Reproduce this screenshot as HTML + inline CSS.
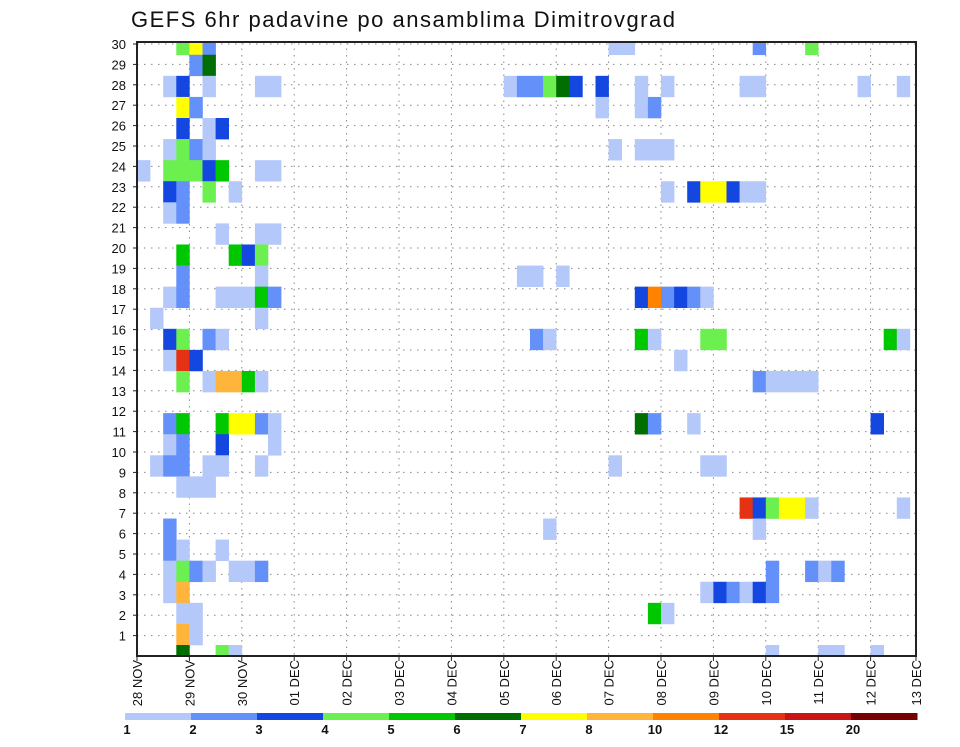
<!DOCTYPE html>
<html>
<head>
<meta charset="utf-8">
<style>
  html,body{margin:0;padding:0;background:#fff;}
  body{width:960px;height:742px;overflow:hidden;font-family:"Liberation Sans",sans-serif;}
  svg text{font-family:"Liberation Sans",sans-serif;}
</style>
</head>
<body>
<svg id="chart" width="960" height="742" viewBox="0 0 960 742" xmlns="http://www.w3.org/2000/svg">
  <text x="131" y="27" font-size="22" fill="#111" textLength="544" lengthAdjust="spacing">GEFS 6hr padavine po ansamblima Dimitrovgrad</text>
  <g id="grid"></g>
  <g id="cells"></g>
  <g id="axes"></g>
  <g id="colorbar"></g>
</svg>
<script>
// ---- data ----
const dayLabels = ["28 NOV","29 NOV","30 NOV","01 DEC","02 DEC","03 DEC","04 DEC","05 DEC","06 DEC","07 DEC","08 DEC","09 DEC","10 DEC","11 DEC","12 DEC","13 DEC"];
const memberTicks = [1,2,3,4,5,6,7,8,9,10,11,12,13,14,15,16,17,18,19,20,21,22,23,24,25,26,27,28,29,30];
const levelBounds = [1,2,3,4,5,6,7,8,10,12,15,20];
const levelColors = ["#b4c8fa","#6490fa","#1446e0","#6cf050","#00c800","#006e00","#ffff00","#ffb43c","#ff8200","#e63214","#c81414","#780000"];
// cells: [member, 6h step index, precipitation mm]
const cells = [
[29,3,4.5],[29,4,7.5],[29,5,2.5],[29,36,1.5],[29,37,1.5],[29,47,2.5],[29,51,4.5],
[28,4,2.5],[28,5,6.5],
[27,2,1.5],[27,3,3.5],[27,5,1.5],[27,9,1.5],[27,10,1.5],[27,28,1.5],[27,29,2.5],[27,30,2.5],[27,31,4.5],[27,32,6.5],[27,33,3.5],[27,35,3.5],[27,38,1.5],[27,40,1.5],[27,46,1.5],[27,47,1.5],[27,55,1.5],[27,58,1.5],
[26,3,7.5],[26,4,2.5],[26,35,1.5],[26,38,1.5],[26,39,2.5],
[25,3,3.5],[25,5,1.5],[25,6,3.5],
[24,2,1.5],[24,3,4.5],[24,4,2.5],[24,5,1.5],[24,36,1.5],[24,38,1.5],[24,39,1.5],[24,40,1.5],
[23,0,1.5],[23,2,4.5],[23,3,4.5],[23,4,4.5],[23,5,3.5],[23,6,5.5],[23,9,1.5],[23,10,1.5],
[22,2,3.5],[22,3,2.5],[22,5,4.5],[22,7,1.5],[22,40,1.5],[22,42,3.5],[22,43,7.5],[22,44,7.5],[22,45,3.5],[22,46,1.5],[22,47,1.5],
[21,2,1.5],[21,3,2.5],
[20,6,1.5],[20,9,1.5],[20,10,1.5],
[19,3,5.5],[19,7,5.5],[19,8,3.5],[19,9,4.5],
[18,3,2.5],[18,9,1.5],[18,29,1.5],[18,30,1.5],[18,32,1.5],
[17,2,1.5],[17,3,2.5],[17,6,1.5],[17,7,1.5],[17,8,1.5],[17,9,5.5],[17,10,2.5],[17,38,3.5],[17,39,11],[17,40,2.5],[17,41,3.5],[17,42,2.5],[17,43,1.5],
[16,1,1.5],[16,9,1.5],
[15,2,3.5],[15,3,4.5],[15,5,2.5],[15,6,1.5],[15,30,2.5],[15,31,1.5],[15,38,5.5],[15,39,1.5],[15,43,4.5],[15,44,4.5],[15,57,5.5],[15,58,1.5],
[14,2,1.5],[14,3,13.5],[14,4,3.5],[14,41,1.5],
[13,3,4.5],[13,5,1.5],[13,6,9],[13,7,9],[13,8,5.5],[13,9,1.5],[13,47,2.5],[13,48,1.5],[13,49,1.5],[13,50,1.5],[13,51,1.5],
[11,2,2.5],[11,3,5.5],[11,6,5.5],[11,7,7.5],[11,8,7.5],[11,9,2.5],[11,10,1.5],[11,38,6.5],[11,39,2.5],[11,42,1.5],[11,56,3.5],
[10,2,1.5],[10,3,2.5],[10,6,3.5],[10,10,1.5],
[9,1,1.5],[9,2,2.5],[9,3,2.5],[9,5,1.5],[9,6,1.5],[9,9,1.5],[9,36,1.5],[9,43,1.5],[9,44,1.5],
[8,3,1.5],[8,4,1.5],[8,5,1.5],
[7,46,13.5],[7,47,3.5],[7,48,4.5],[7,49,7.5],[7,50,7.5],[7,51,1.5],[7,58,1.5],
[6,2,2.5],[6,31,1.5],[6,47,1.5],
[5,2,2.5],[5,3,1.5],[5,6,1.5],
[4,2,1.5],[4,3,4.5],[4,4,2.5],[4,5,1.5],[4,7,1.5],[4,8,1.5],[4,9,2.5],[4,48,2.5],[4,51,2.5],[4,52,1.5],[4,53,2.5],
[3,2,1.5],[3,3,9],[3,43,1.5],[3,44,3.5],[3,45,2.5],[3,46,1.5],[3,47,3.5],[3,48,2.5],
[2,3,1.5],[2,4,1.5],[2,39,5.5],[2,40,1.5],
[1,3,9],[1,4,1.5],
[0,3,6.5],[0,6,4.5],[0,7,1.5],[0,48,1.5],[0,52,1.5],[0,53,1.5],[0,56,1.5]
];

// ---- layout ----
const NS = "http://www.w3.org/2000/svg";
const PL = 137, PR = 916, PT = 42, PB = 656;
const STEP_W = 13.1;
const CELL_H = 21.08;
const CELL0_TOP = 645;
const TICK_DY = 20.4;
function xStep(k){ return PL + k*STEP_W; }
function yCellTop(m){ return CELL0_TOP - m*CELL_H; }
function yTick(v){ return PB - v*TICK_DY; }
function colorFor(v){
  let idx = 0;
  for (let i=0;i<levelBounds.length;i++){ if (v >= levelBounds[i]) idx = i; }
  return levelColors[idx];
}
function mk(tag, attrs, parent){
  const el = document.createElementNS(NS, tag);
  for (const a in attrs) el.setAttribute(a, attrs[a]);
  parent.appendChild(el);
  return el;
}

const grid = document.getElementById('grid');
const cellG = document.getElementById('cells');
const axes = document.getElementById('axes');
const cbar = document.getElementById('colorbar');

memberTicks.forEach(function(v){
  const y = yTick(v);
  const l = mk('line',{x1:PL,x2:PR,y1:y,y2:y,stroke:'#888','stroke-width':1,'stroke-dasharray':'1.5,5.5'},grid);
  
  
});
dayLabels.forEach(function(d,i){
  if (i===0) return;
  const x = xStep(i*4);
  if (x > PR) return;
  const l = mk('line',{x1:x,x2:x,y1:PT,y2:PB,stroke:'#888','stroke-width':1,'stroke-dasharray':'1.5,5'},grid);
  
  
});

const defs = mk('defs',{},document.getElementById('chart'));
const cp = mk('clipPath',{id:'plotclip'},defs);
mk('rect',{x:PL,y:PT,width:PR-PL,height:PB-PT},cp);
cellG.setAttribute('clip-path','url(#plotclip)');

cells.forEach(function(c){
  const m=c[0], k=c[1], v=c[2];
  const r = mk('rect',{x:xStep(k),y:yCellTop(m),width:STEP_W+0.3,height:CELL_H+0.3,fill:colorFor(v)},cellG);
  
  
});

const frame = mk('rect',{x:PL,y:PT,width:PR-PL,height:PB-PT,fill:'none',stroke:'#222','stroke-width':2},axes);



memberTicks.forEach(function(v){
  const y = yTick(v);
  mk('line',{x1:PL-4,x2:PL,y1:y,y2:y,stroke:'#222','stroke-width':1},axes);
  const t = mk('text',{x:PL-11,y:y+5,'font-size':13,'text-anchor':'end',fill:'#111'},axes);
  t.textContent = String(v);
  
  
});

dayLabels.forEach(function(d,i){
  let x = xStep(i*4);
  if (x > PR) x = PR;
  mk('line',{x1:x,x2:x,y1:PB,y2:PB+5,stroke:'#222','stroke-width':1},axes);
  const t = mk('text',{x:0,y:0,'font-size':13,'text-anchor':'end',fill:'#111',transform:'translate('+(x+5)+','+(PB+4)+') rotate(-90)'},axes);
  t.textContent = d;
  
  
});

const CB_L = 125, CB_W = 66, CB_Y = 713, CB_H = 7;
levelColors.forEach(function(col,i){
  const r = mk('rect',{x:CB_L+i*CB_W,y:CB_Y,width:CB_W+0.5,height:CB_H,fill:col},cbar);
  
  
});
levelBounds.forEach(function(b,i){
  const t = mk('text',{x:CB_L+i*CB_W+2,y:734,'font-size':13,'font-weight':'bold','text-anchor':'middle',fill:'#111'},cbar);
  t.textContent = String(b);
  
  
});
</script>
</body>
</html>
